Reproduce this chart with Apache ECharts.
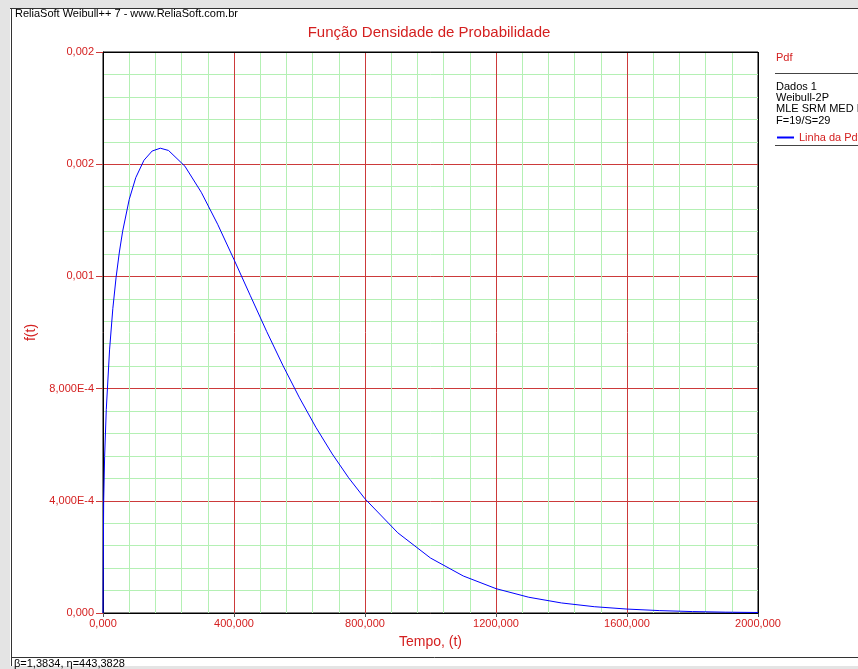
<!DOCTYPE html>
<html>
<head>
<meta charset="utf-8">
<script src="https://cdn.jsdelivr.net/npm/echarts@6/dist/echarts.min.js"></script>
<style>
html,body{margin:0;padding:0;background:#fff;}
#c{width:858px;height:669px;}
</style>
</head>
<body>
<div id="c"></div>
<script>
// Time values t
var tValues = [0, 2, 5, 10, 20, 30, 40, 50, 60, 80, 100, 125, 150, 175, 200, 250, 300, 350, 400, 450, 500, 550, 600, 650, 700, 750, 800, 900, 1000, 1100, 1200, 1300, 1400, 1500, 1600, 1700, 1800, 1900, 2000];
// Pdf values f(t)
var pdfValues = [0, 0.000393, 0.000558, 0.000725, 0.000938, 0.001085, 0.001197, 0.001287, 0.001361, 0.001474, 0.001552, 0.001614, 0.001647, 0.001657, 0.001649, 0.001593, 0.001500, 0.001386, 0.001260, 0.001131, 0.001003, 0.000881, 0.000767, 0.000662, 0.000567, 0.000482, 0.000407, 0.000286, 0.000196, 0.000132, 0.0000868, 0.0000562, 0.0000358, 0.0000225, 0.0000140, 0.0000085, 0.0000051, 0.0000030, 0.0000018];
// Y tick labels as shown
var yTickLabels = ['0,000', '4,000E-4', '8,000E-4', '0,001', '0,002', '0,002'];
var xTickLabels = ['0,000', '400,000', '800,000', '1200,000', '1600,000', '2000,000'];
var legendLines = ['Dados 1', 'Weibull-2P', 'MLE SRM MED FM', 'F=19/S=29'];

var FONT = 'Liberation Sans';
var RED = '#d42020';
var data = tValues.map(function (t, i) { return [t, pdfValues[i]]; });

var chart = echarts.init(document.getElementById('c'), null, {renderer: 'canvas'});
var graphics = [
  {type: 'rect', shape: {x: 0, y: 0, width: 858, height: 8}, style: {fill: '#e4e4e4'}, silent: true},
  {type: 'rect', shape: {x: 0, y: 0, width: 10, height: 669}, style: {fill: '#e4e4e4'}, silent: true},
  {type: 'rect', shape: {x: 0, y: 666, width: 858, height: 3}, style: {fill: '#e4e4e4'}, silent: true},
  {type: 'line', shape: {x1: 10, y1: 8.5, x2: 858, y2: 8.5}, style: {stroke: '#333', lineWidth: 1}},
  {type: 'line', shape: {x1: 11.5, y1: 8, x2: 11.5, y2: 666}, style: {stroke: '#333', lineWidth: 1}},
  {type: 'line', shape: {x1: 11, y1: 657.5, x2: 858, y2: 657.5}, style: {stroke: '#333', lineWidth: 1}},
  {type: 'line', z: 100, shape: {x1: 103, y1: 52.5, x2: 758.5, y2: 52.5}, style: {stroke: '#000', lineWidth: 1}},
  {type: 'line', z: 100, shape: {x1: 758.5, y1: 52, x2: 758.5, y2: 613.5}, style: {stroke: '#000', lineWidth: 1}},
  {type: 'text', left: 15, top: 8, style: {text: 'ReliaSoft Weibull++ 7 - www.ReliaSoft.com.br', font: '11px ' + FONT, fill: '#000'}},
  {type: 'text', left: 14, top: 658, style: {text: 'β=1,3834, η=443,3828', font: '11px ' + FONT, fill: '#000'}},
  {type: 'text', left: 776, top: 52, style: {text: 'Pdf', font: '11px ' + FONT, fill: RED}},
  {type: 'line', shape: {x1: 775, y1: 73.5, x2: 858, y2: 73.5}, style: {stroke: '#444', lineWidth: 1}},
  {type: 'line', shape: {x1: 775, y1: 145.5, x2: 858, y2: 145.5}, style: {stroke: '#444', lineWidth: 1}}
];
legendLines.forEach(function (s, i) {
  graphics.push({type: 'text', left: 776, top: 81 + i * 11.4, style: {text: s, font: '11px ' + FONT, fill: '#000'}});
});

chart.setOption({
  animation: false,
  backgroundColor: '#fff',
  title: {
    text: 'Função Densidade de Probabilidade',
    left: 'center', top: 20,
    textStyle: {color: RED, fontFamily: FONT, fontSize: 15, fontWeight: 'normal'}
  },
  legend: {
    data: [{name: 'Linha da Pdf', icon: 'rect'}],
    left: 772, top: 127, itemWidth: 17, itemHeight: 2, itemGap: 4,
    textStyle: {color: RED, fontFamily: FONT, fontSize: 11, padding: [0, 0, 0, 0]}
  },
  grid: {left: 103, top: 52, width: 655, height: 561, show: true, borderColor: '#000', borderWidth: 1, backgroundColor: 'transparent'},
  xAxis: {
    type: 'value', min: 0, max: 2000, interval: 400,
    name: 'Tempo, (t)', nameLocation: 'middle', nameGap: 22,
    nameTextStyle: {color: RED, fontFamily: FONT, fontSize: 14},
    axisLine: {lineStyle: {color: '#000', width: 1}},
    axisTick: {show: true, length: 4, lineStyle: {color: '#555'}},
    axisLabel: {color: RED, fontFamily: FONT, fontSize: 11, margin: 5,
      formatter: function (v) { return xTickLabels[Math.round(v / 400)]; }},
    splitLine: {show: true, lineStyle: {color: '#cc3a3a', width: 1}},
    minorTick: {show: false, splitNumber: 5},
    minorSplitLine: {show: true, lineStyle: {color: '#b4f0b4', width: 1}}
  },
  yAxis: {
    type: 'value', min: 0, max: 0.002, interval: 0.0004,
    name: 'f(t)', nameLocation: 'middle', nameGap: 60,
    nameTextStyle: {color: RED, fontFamily: FONT, fontSize: 14},
    axisLine: {lineStyle: {color: '#000', width: 1}},
    axisTick: {show: true, length: 7, lineStyle: {color: '#cc3a3a'}},
    axisLabel: {color: RED, fontFamily: FONT, fontSize: 11, margin: 9,
      formatter: function (v) { return yTickLabels[Math.round(v / 0.0004)]; }},
    splitLine: {show: true, lineStyle: {color: '#cc3a3a', width: 1}},
    minorTick: {show: false, splitNumber: 5},
    minorSplitLine: {show: true, lineStyle: {color: '#b4f0b4', width: 1}}
  },
  series: [{
    name: 'Linha da Pdf', type: 'line', data: data,
    showSymbol: false, smooth: false,
    lineStyle: {color: '#0000ff', width: 1},
    itemStyle: {color: '#0000ff'}
  }],
  graphic: graphics
});
</script>
</body>
</html>
